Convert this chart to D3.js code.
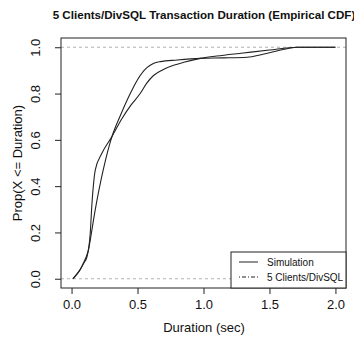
<!DOCTYPE html>
<html>
<head>
<meta charset="utf-8">
<script src="https://cdn.jsdelivr.net/npm/d3@7"></script>
<style>
html,body{margin:0;padding:0;background:#fff;}
svg{display:block;font-family:"Liberation Sans",Arial,sans-serif;}
</style>
</head>
<body>
<svg id="chart" width="354" height="338"></svg>
<script>
const title = "5 Clients/DivSQL Transaction Duration (Empirical CDF)";
const xLabel = "Duration (sec)";
const yLabel = "Prop(X <= Duration)";
const seriesNames = ["Simulation", "5 Clients/DivSQL"];
const xTicks = [0.0, 0.5, 1.0, 1.5, 2.0];
const yTicks = [0.0, 0.2, 0.4, 0.6, 0.8, 1.0];

const simDuration = [0.01,0.03,0.06,0.09,0.117,0.13,0.18,0.24,0.306,0.37,0.445,0.50,0.571,0.62,0.672,0.80,0.975,1.15,1.33,1.45,1.556,1.65,1.71,2.0];
const simProp     = [0,0.012,0.035,0.065,0.095,0.13,0.30,0.47,0.614,0.705,0.80,0.86,0.912,0.93,0.938,0.945,0.952,0.954,0.957,0.97,0.984,0.996,1.0,1.0];

const divDuration = [0.01,0.04,0.066,0.09,0.117,0.13,0.142,0.154,0.165,0.18,0.23,0.306,0.38,0.45,0.52,0.57,0.621,0.70,0.773,0.85,0.975,1.1,1.3,1.5,1.71,2.0];
const divProp     = [0,0.02,0.04,0.068,0.104,0.132,0.20,0.32,0.40,0.47,0.542,0.614,0.69,0.75,0.80,0.845,0.878,0.905,0.922,0.935,0.952,0.962,0.975,0.988,1.0,1.0];

const svg = d3.select("#chart");
const L = 61, R = 346, T = 38, B = 288;
const x = d3.scaleLinear().domain([-0.08, 2.08]).range([L, R]);
const y = d3.scaleLinear().domain([-0.04, 1.04]).range([B, T]);

// dashed reference lines at 0 and 1
svg.selectAll("line.ref").data([0, 1]).enter().append("line")
  .attr("x1", L).attr("x2", R)
  .attr("y1", d => y(d)).attr("y2", d => y(d))
  .attr("stroke", "#b3b3b3").attr("stroke-width", 1)
  .attr("stroke-dasharray", "3,3");

const line = d3.line().x(d => x(d[0])).y(d => y(d[1])).curve(d3.curveMonotoneX);
const simData = simDuration.map((d, i) => [d, simProp[i]]);
const divData = divDuration.map((d, i) => [d, divProp[i]]);

svg.append("path").datum(simData).attr("d", line)
  .attr("fill", "none").attr("stroke", "#222").attr("stroke-width", 1.1);
svg.append("path").datum(divData).attr("d", line)
  .attr("fill", "none").attr("stroke", "#222").attr("stroke-width", 1.1);

// box
svg.append("rect").attr("x", L).attr("y", T).attr("width", R - L).attr("height", B - T)
  .attr("fill", "none").attr("stroke", "#222").attr("stroke-width", 1);

// axes
const xAxis = d3.axisBottom(x).tickValues(xTicks).tickFormat(d3.format(".1f")).tickSize(6).tickPadding(6);
const gx = svg.append("g").attr("transform", `translate(0,${B})`).call(xAxis);
gx.select(".domain").remove();
gx.selectAll(".tick line").attr("stroke", "#222");
gx.selectAll(".tick text").attr("font-size", 13).attr("fill", "#111")
  .attr("font-family", "Liberation Sans, Arial, sans-serif");

const yAxis = d3.axisLeft(y).tickValues(yTicks).tickFormat(d3.format(".1f")).tickSize(6).tickPadding(3);
const gy = svg.append("g").attr("transform", `translate(${L},0)`).call(yAxis);
gy.select(".domain").remove();
gy.selectAll(".tick line").attr("stroke", "#222");
gy.selectAll(".tick text").attr("font-size", 13).attr("fill", "#111")
  .attr("font-family", "Liberation Sans, Arial, sans-serif")
  .attr("text-anchor", "middle").attr("x", null)
  .attr("transform", "translate(-26,0) rotate(-90)").attr("dy", "0.36em");

// title and labels
svg.append("text").attr("x", 204).attr("y", 19).attr("text-anchor", "middle")
  .attr("font-size", 11.6).attr("font-weight", "bold").attr("fill", "#111").text(title);
svg.append("text").attr("x", 204).attr("y", 332).attr("text-anchor", "middle")
  .attr("font-size", 13).attr("fill", "#111").text(xLabel);
svg.append("text").attr("transform", `translate(22,${(T + B) / 2}) rotate(-90)`).attr("text-anchor", "middle")
  .attr("font-size", 13).attr("fill", "#111").text(yLabel);

// legend
const lg = svg.append("g");
lg.append("rect").attr("x", 231).attr("y", 252).attr("width", R - 231).attr("height", B - 252)
  .attr("fill", "#fff").attr("stroke", "#222").attr("stroke-width", 1);
const dashes = [null, "1,2,4,2"];
seriesNames.forEach((name, i) => {
  const yy = 262 + i * 15;
  lg.append("line").attr("x1", 239).attr("x2", 258).attr("y1", yy).attr("y2", yy)
    .attr("stroke", "#222").attr("stroke-width", 1).attr("stroke-dasharray", dashes[i]);
  lg.append("text").attr("x", 267).attr("y", yy).attr("dy", "0.35em")
    .attr("font-size", 10).attr("fill", "#111").text(name);
});
</script>
</body>
</html>
